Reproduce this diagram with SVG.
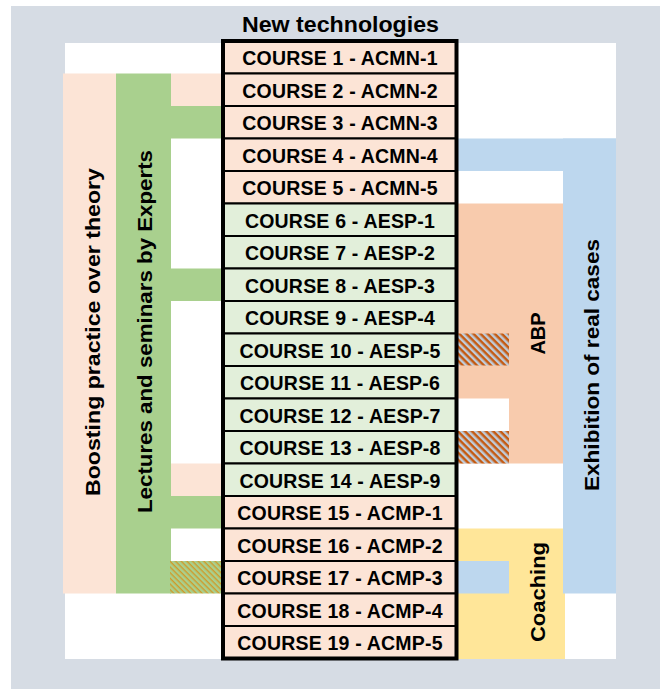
<svg xmlns="http://www.w3.org/2000/svg" width="660" height="689" viewBox="0 0 660 689">
<style>
.t{font-family:"Liberation Sans",Arial,sans-serif;font-weight:bold;fill:#000;}
.c{font-size:19.5px;letter-spacing:0.2px;text-anchor:middle;}
.v{font-size:20px;text-anchor:middle;}
.cell{stroke:#000;stroke-width:2;}
.pk{fill:#FCE4D6;}
.lg{fill:#E2EFDA;}
.gr{fill:#A9D08E;}
.bl{fill:#BDD7EE;}
.or{fill:#F8CBAD;}
.ye{fill:#FFE699;}
</style>
<defs>
<pattern id="hg" width="4" height="4" patternUnits="userSpaceOnUse" patternTransform="rotate(45)">
<rect width="4" height="4" fill="#A9D08E"/>
<rect width="4" height="1.4" fill="#D09A2A"/>
</pattern>
<pattern id="ho" width="5" height="5" patternUnits="userSpaceOnUse" patternTransform="rotate(45)">
<rect width="5" height="5" fill="#BFCCDA"/>
<rect width="5" height="2.5" fill="#C55A11"/>
</pattern>
</defs>
<rect x="0" y="0" width="660" height="689" fill="#FFFFFF"/>
<rect x="11" y="6" width="649" height="683" fill="#D6DCE4"/>
<rect x="65" y="43" width="551" height="616" fill="#FFFFFF"/>

<g id="boosting">
<rect class="pk" x="63" y="73.5" width="53" height="520"/>
<rect class="pk" x="171" y="73.5" width="52" height="32.5"/>
<rect class="pk" x="171" y="463.5" width="52" height="32.5"/>
<text class="t v" transform="translate(100,332) rotate(-90)" textLength="328" lengthAdjust="spacingAndGlyphs">Boosting practice over theory</text>
</g>
<g id="lectures">
<rect class="gr" x="116" y="73.5" width="55" height="520"/>
<rect class="gr" x="170" y="106" width="53" height="32.5"/>
<rect class="gr" x="170" y="268.5" width="53" height="32.5"/>
<rect class="gr" x="170" y="496" width="53" height="32.5"/>
<rect fill="url(#hg)" x="170" y="561" width="53" height="32.5"/>
<text class="t v" transform="translate(152,331.5) rotate(-90)" textLength="363" lengthAdjust="spacingAndGlyphs">Lectures and seminars by Experts</text>
</g>
<g id="coaching">
<rect class="ye" x="458" y="528.5" width="107" height="130.5"/>
<text class="t v" transform="translate(545,592) rotate(-90)" textLength="100" lengthAdjust="spacingAndGlyphs">Coaching</text>
</g>
<g id="exhibition">
<rect class="bl" x="458" y="138.5" width="158" height="32.5"/>
<rect class="bl" x="563" y="138.5" width="53" height="455"/>
<rect class="bl" x="458" y="561" width="51" height="32.5"/>
<text class="t v" transform="translate(599,365) rotate(-90)" textLength="252" lengthAdjust="spacingAndGlyphs">Exhibition of real cases</text>
</g>
<g id="abp">
<rect class="or" x="458" y="203.5" width="105" height="260"/>
<rect fill="#FFFFFF" x="458" y="398.5" width="51" height="32.5"/>
<rect fill="url(#ho)" x="458" y="333.5" width="51" height="32"/>
<rect fill="url(#ho)" x="458" y="431" width="51" height="32.5"/>
<text class="t v" transform="translate(545,333.5) rotate(-90)">ABP</text>
</g>

<g id="title">
<text class="t" x="340.5" y="32" font-size="21.5" text-anchor="middle" textLength="197" lengthAdjust="spacingAndGlyphs">New technologies</text>
</g>

<g id="course1"><rect class="cell pk" x="223" y="41" width="233.5" height="32.5"/><text class="t c" x="340" y="65">COURSE 1 - ACMN-1</text></g>
<g id="course2"><rect class="cell pk" x="223" y="73.5" width="233.5" height="32.5"/><text class="t c" x="340" y="97.5">COURSE 2 - ACMN-2</text></g>
<g id="course3"><rect class="cell pk" x="223" y="106" width="233.5" height="32.5"/><text class="t c" x="340" y="130">COURSE 3 - ACMN-3</text></g>
<g id="course4"><rect class="cell pk" x="223" y="138.5" width="233.5" height="32.5"/><text class="t c" x="340" y="162.5">COURSE 4 - ACMN-4</text></g>
<g id="course5"><rect class="cell pk" x="223" y="171" width="233.5" height="32.5"/><text class="t c" x="340" y="195">COURSE 5 - ACMN-5</text></g>
<g id="course6"><rect class="cell lg" x="223" y="203.5" width="233.5" height="32.5"/><text class="t c" x="340" y="227.5">COURSE 6 - AESP-1</text></g>
<g id="course7"><rect class="cell lg" x="223" y="236" width="233.5" height="32.5"/><text class="t c" x="340" y="260">COURSE 7 - AESP-2</text></g>
<g id="course8"><rect class="cell lg" x="223" y="268.5" width="233.5" height="32.5"/><text class="t c" x="340" y="292.5">COURSE 8 - AESP-3</text></g>
<g id="course9"><rect class="cell lg" x="223" y="301" width="233.5" height="32.5"/><text class="t c" x="340" y="325">COURSE 9 - AESP-4</text></g>
<g id="course10"><rect class="cell lg" x="223" y="333.5" width="233.5" height="32.5"/><text class="t c" x="340" y="357.5">COURSE 10 - AESP-5</text></g>
<g id="course11"><rect class="cell lg" x="223" y="366" width="233.5" height="32.5"/><text class="t c" x="340" y="390">COURSE 11 - AESP-6</text></g>
<g id="course12"><rect class="cell lg" x="223" y="398.5" width="233.5" height="32.5"/><text class="t c" x="340" y="422.5">COURSE 12 - AESP-7</text></g>
<g id="course13"><rect class="cell lg" x="223" y="431" width="233.5" height="32.5"/><text class="t c" x="340" y="455">COURSE 13 - AESP-8</text></g>
<g id="course14"><rect class="cell lg" x="223" y="463.5" width="233.5" height="32.5"/><text class="t c" x="340" y="487.5">COURSE 14 - AESP-9</text></g>
<g id="course15"><rect class="cell pk" x="223" y="496" width="233.5" height="32.5"/><text class="t c" x="340" y="520">COURSE 15 - ACMP-1</text></g>
<g id="course16"><rect class="cell pk" x="223" y="528.5" width="233.5" height="32.5"/><text class="t c" x="340" y="552.5">COURSE 16 - ACMP-2</text></g>
<g id="course17"><rect class="cell pk" x="223" y="561" width="233.5" height="32.5"/><text class="t c" x="340" y="585">COURSE 17 - ACMP-3</text></g>
<g id="course18"><rect class="cell pk" x="223" y="593.5" width="233.5" height="32.5"/><text class="t c" x="340" y="617.5">COURSE 18 - ACMP-4</text></g>
<g id="course19"><rect class="cell pk" x="223" y="626" width="233.5" height="32.5"/><text class="t c" x="340" y="650">COURSE 19 - ACMP-5</text></g>
<rect x="223" y="41" width="233.5" height="617.5" fill="none" stroke="#000" stroke-width="4"/>
</svg>
